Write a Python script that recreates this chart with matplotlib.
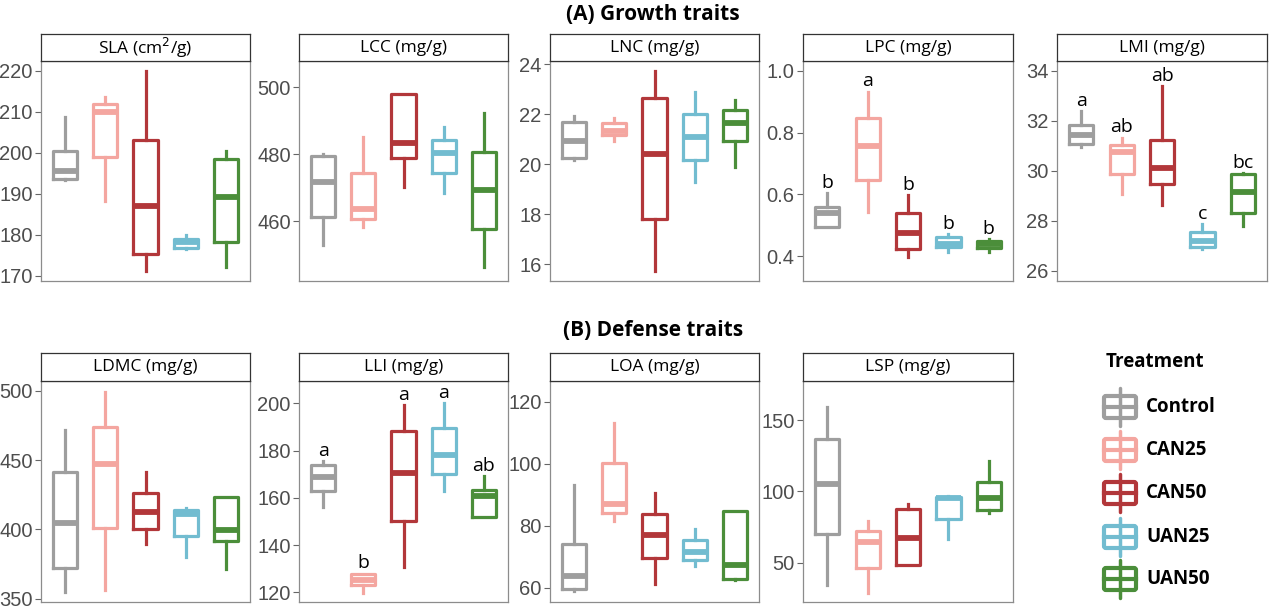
import matplotlib.pyplot as plt
from matplotlib.patches import FancyBboxPatch

W, H = 1269, 608

treatments = ["Control", "CAN25", "CAN50", "UAN25", "UAN50"]
colors = ["#9E9E9E", "#F4A6A0", "#B2373A", "#72BCD0", "#4B8E3A"]

# five-number summaries per treatment: [whisker low, q1, median, q3, whisker high]
sla = [[193.3, 193.6, 195.6, 200.5, 208.8],
       [188.2, 199.0, 210.0, 212.0, 213.7],
       [171.2, 175.3, 187.1, 203.1, 220.0],
       [176.6, 176.8, 178.1, 178.9, 179.9],
       [172.2, 178.3, 189.3, 198.6, 200.5]]
lcc = [[452.8, 461.3, 471.8, 479.6, 480.1],
       [458.3, 460.6, 463.5, 474.5, 485.2],
       [470.3, 479.0, 483.5, 497.9, 497.9],
       [468.5, 474.3, 480.3, 484.4, 488.2],
       [446.2, 457.7, 469.3, 480.8, 492.2]]
lnc = [[20.16, 20.23, 20.92, 21.67, 21.93],
       [20.93, 21.15, 21.33, 21.63, 21.83],
       [15.73, 17.79, 20.39, 22.65, 23.72],
       [19.27, 20.15, 21.09, 22.00, 22.87],
       [19.89, 20.91, 21.64, 22.16, 22.56]]
lpc = [[0.493, 0.493, 0.538, 0.558, 0.603],
       [0.543, 0.646, 0.755, 0.846, 0.933],
       [0.396, 0.424, 0.476, 0.541, 0.598],
       [0.412, 0.428, 0.438, 0.461, 0.470],
       [0.414, 0.426, 0.438, 0.450, 0.454]]
lmi = [[30.97, 31.08, 31.44, 31.84, 32.40],
       [29.07, 29.88, 30.77, 31.04, 31.33],
       [28.64, 29.47, 30.13, 31.24, 33.40],
       [26.87, 26.97, 27.20, 27.57, 27.88],
       [27.80, 28.33, 29.17, 29.87, 29.91]]
ldmc = [[354.8, 372.4, 404.8, 441.2, 471.8],
        [356.5, 401.4, 447.2, 473.7, 499.5],
        [389.3, 400.0, 412.5, 426.5, 441.2],
        [380.2, 395.6, 411.5, 414.4, 415.8],
        [371.5, 391.5, 399.4, 423.6, 423.6]]
lli = [[156.2, 163.1, 168.9, 174.0, 175.5],
       [119.7, 123.1, 125.4, 127.9, 127.9],
       [130.7, 150.2, 170.7, 188.3, 199.3],
       [162.8, 170.3, 178.1, 189.5, 200.0],
       [151.9, 151.9, 160.8, 163.4, 169.3]]
loa = [[58.9, 59.7, 63.9, 74.1, 93.3],
       [81.5, 84.1, 87.1, 100.2, 113.0],
       [61.3, 69.6, 76.9, 83.9, 90.7],
       [66.9, 68.8, 71.5, 75.3, 79.0],
       [62.4, 62.9, 67.4, 84.7, 84.7]]
lsp = [[34.5, 70.4, 105.5, 136.7, 159.4],
       [28.7, 46.3, 64.5, 72.0, 79.0],
       [48.6, 48.6, 67.3, 87.5, 91.0],
       [66.6, 80.4, 95.0, 95.7, 96.6],
       [84.9, 87.2, 95.4, 106.4, 121.4]]

lpc_letters = ["b", "a", "b", "b", "b"]
lmi_letters = ["a", "ab", "ab", "c", "bc"]
lli_letters = ["a", "b", "a", "a", "ab"]

panels = [
    # title, data, ylim, yticks, letters, row, col
    ("SLA (cm$^2$/g)", sla, (168.7, 222.4), [170, 180, 190, 200, 210, 220], None, 0, 0),
    ("LCC (mg/g)", lcc, (442.1, 507.9), [460, 480, 500], None, 0, 1),
    ("LNC (mg/g)", lnc, (15.32, 24.12), [16, 18, 20, 22, 24], None, 0, 2),
    ("LPC (mg/g)", lpc, (0.319, 1.032), [0.4, 0.6, 0.8, 1.0], lpc_letters, 0, 3),
    ("LMI (mg/g)", lmi, (25.6, 34.4), [26, 28, 30, 32, 34], lmi_letters, 0, 4),
    ("LDMC (mg/g)", ldmc, (347.6, 507.2), [350, 400, 450, 500], None, 1, 0),
    ("LLI (mg/g)", lli, (115.9, 209.5), [120, 140, 160, 180, 200], lli_letters, 1, 1),
    ("LOA (mg/g)", loa, (55.4, 126.7), [60, 80, 100, 120], None, 1, 2),
    ("LSP (mg/g)", lsp, (22.4, 177.4), [50, 100, 150], None, 1, 3),
]

col_x = [(41, 250), (299, 508), (550, 759), (803, 1013), (1057, 1267)]
row_y = [(34, 61, 281), (353, 381, 602)]  # strip top, plot top, plot bottom (px from top)

fig = plt.figure(figsize=(W / 100, H / 100), dpi=100)
fig.patch.set_facecolor("white")

text_font = "Open Sans"
tick_font = "Liberation Sans"

for title, data, ylim, yticks, letters, r, c in panels:
    x0, x1 = col_x[c]
    st, pt, pb = row_y[r]
    ax = fig.add_axes([x0 / W, 1 - pb / H, (x1 - x0) / W, (pb - pt) / H])
    stats = [dict(whislo=lo, q1=q1, med=med, q3=q3, whishi=hi, fliers=[])
             for lo, q1, med, q3, hi in data]
    bp = ax.bxp(stats, positions=range(1, 6), widths=0.6, showcaps=False,
                showfliers=False, patch_artist=False)
    for i, col in enumerate(colors):
        bp["boxes"][i].set(color=col, linewidth=2.3)
        bp["medians"][i].set(color=col, linewidth=4.2, solid_capstyle="butt")
        for w in bp["whiskers"][2 * i:2 * i + 2]:
            w.set(color=col, linewidth=2.3)
    ax.set_xlim(0.4, 5.6)
    ax.set_ylim(*ylim)
    ax.set_yticks(yticks)
    ax.set_xticks([])
    ax.tick_params(axis="y", direction="out", length=4, width=0.8, color="#666666",
                   labelsize=14.5, labelcolor="#4D4D4D", pad=2, labelfontfamily=tick_font)
    for s in ax.spines.values():
        s.set_color("#8C8C8C")
        s.set_linewidth(0.9)
    if letters:
        for i, txt in enumerate(letters):
            ax.annotate(txt, (i + 1, data[i][4]), xytext=(0, 1), textcoords="offset points",
                        ha="center", va="bottom", fontsize=14, family=text_font, color="black")
    # strip
    sax = fig.add_axes([x0 / W, 1 - pt / H, (x1 - x0) / W, (pt - st) / H])
    sax.set_xticks([])
    sax.set_yticks([])
    for s in sax.spines.values():
        s.set_color("#333333")
        s.set_linewidth(0.9)
    sax.text(0.5, 0.5, title, ha="center", va="center", fontsize=12.5,
             family=text_font, transform=sax.transAxes)

fig.text(653 / W, 1 - 15 / H, "(A) Growth traits", ha="center", va="center",
         fontsize=15, fontweight="bold", family=text_font)
fig.text(653 / W, 1 - 330 / H, "(B) Defense traits", ha="center", va="center",
         fontsize=15, fontweight="bold", family=text_font)

# legend drawn in pixel coordinates
lax = fig.add_axes([0, 0, 1, 1], zorder=-1)
lax.set_xlim(0, W)
lax.set_ylim(H, 0)
lax.axis("off")
lax.text(1155, 362, "Treatment", ha="center", va="center", fontsize=13.5,
         fontweight="bold", family=text_font)
key_y = [407, 450, 493, 537, 579]
for name, col, ky in zip(treatments, colors, key_y):
    lax.plot([1120, 1120], [ky - 19, ky + 19], color=col, lw=2.5, solid_capstyle="round")
    lax.add_patch(FancyBboxPatch((1104, ky - 11), 32, 22, boxstyle="round,pad=0,rounding_size=2",
                                 facecolor="white", edgecolor=col, lw=3.0))
    lax.plot([1104, 1136], [ky, ky], color=col, lw=3.0)
    lax.text(1146, ky, name, ha="left", va="center", fontsize=13.5, fontweight="bold",
             family=text_font)

fig.savefig("out.png", dpi=100, facecolor="white")
